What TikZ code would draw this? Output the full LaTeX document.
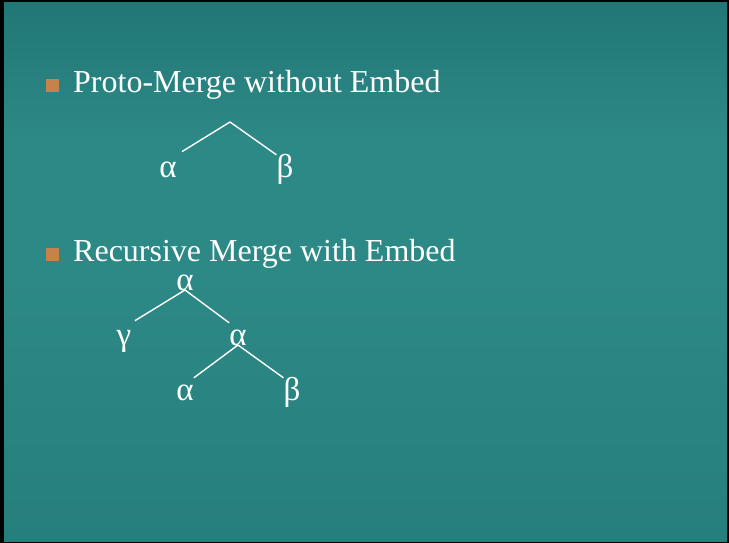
\documentclass[tikz,border=0pt]{standalone}
\usepackage{fontspec}
\setmainfont{Liberation Serif}
\usetikzlibrary{positioning}

\definecolor{slidetop}{RGB}{33,119,117}
\definecolor{slidemid}{RGB}{45,137,134}
\definecolor{slidebot}{RGB}{38,127,125}
\definecolor{bulletbrown}{RGB}{198,130,74}

\tikzset{
  heading/.style={white, inner sep=0pt, anchor=base west, font=\fontsize{32}{36}\selectfont},
  bullet/.style={fill=bulletbrown, inner sep=0pt, minimum size=13pt},
  leaf/.style={white, inner sep=0pt, anchor=base, text height=22pt, text depth=6pt, font=\fontsize{33}{36}\selectfont},
  branch/.style={draw=white, line width=1.4pt},
}

\begin{document}
\begin{tikzpicture}[x=1pt, y=-1pt]
  \path[use as bounding box] (0, 0) rectangle (729, 543);

%%%%%%%%%%%% slide background
  \fill[black] (0, 0) rectangle (729, 543);
  \shade[top color=slidetop, bottom color=slidemid, middle color=slidemid] (4, 3) rectangle (727, 272);
  \shade[top color=slidemid, bottom color=slidebot] (4, 272) rectangle (727, 541);

%%%%%%%%%%%% Proto-Merge
  \node[heading] (h1) at (73, 93) {Proto-Merge without Embed};
  \node[bullet] (b1) at (52.5, 85.5) {};

  \coordinate (top) at (230, 122);
  \node[leaf] (pa) at (168, 177) {α};
  \node[leaf] (pb) at (285, 177) {β};
  \draw[branch, shorten >=6pt] (top) -- (pa.north east);
  \draw[branch] (top) -- (pb.north west);

%%%%%%%%%%%% Recursive Merge
  \node[heading] (h2) at (73, 261) {Recursive Merge with Embed};
  \node[bullet] (b2) at (52.5, 254.5) {};

  \node[leaf, text height=14pt] (ra) at (185, 290) {α};
  \node[leaf] (rg) at (124, 345) {γ};
  \node[leaf] (rm) at (238, 345) {α};
  \node[leaf] (rl) at (185, 400) {α};
  \node[leaf] (rb) at (292, 400) {β};
  \draw[branch, shorten >=4pt] (ra.base) -- (rg.north east);
  \draw[branch] (ra.base) -- (rm.north west);
  \draw[branch] (rm.base) -- (rl.north east);
  \draw[branch] (rm.base) -- (rb.north west);
\end{tikzpicture}
\end{document}
